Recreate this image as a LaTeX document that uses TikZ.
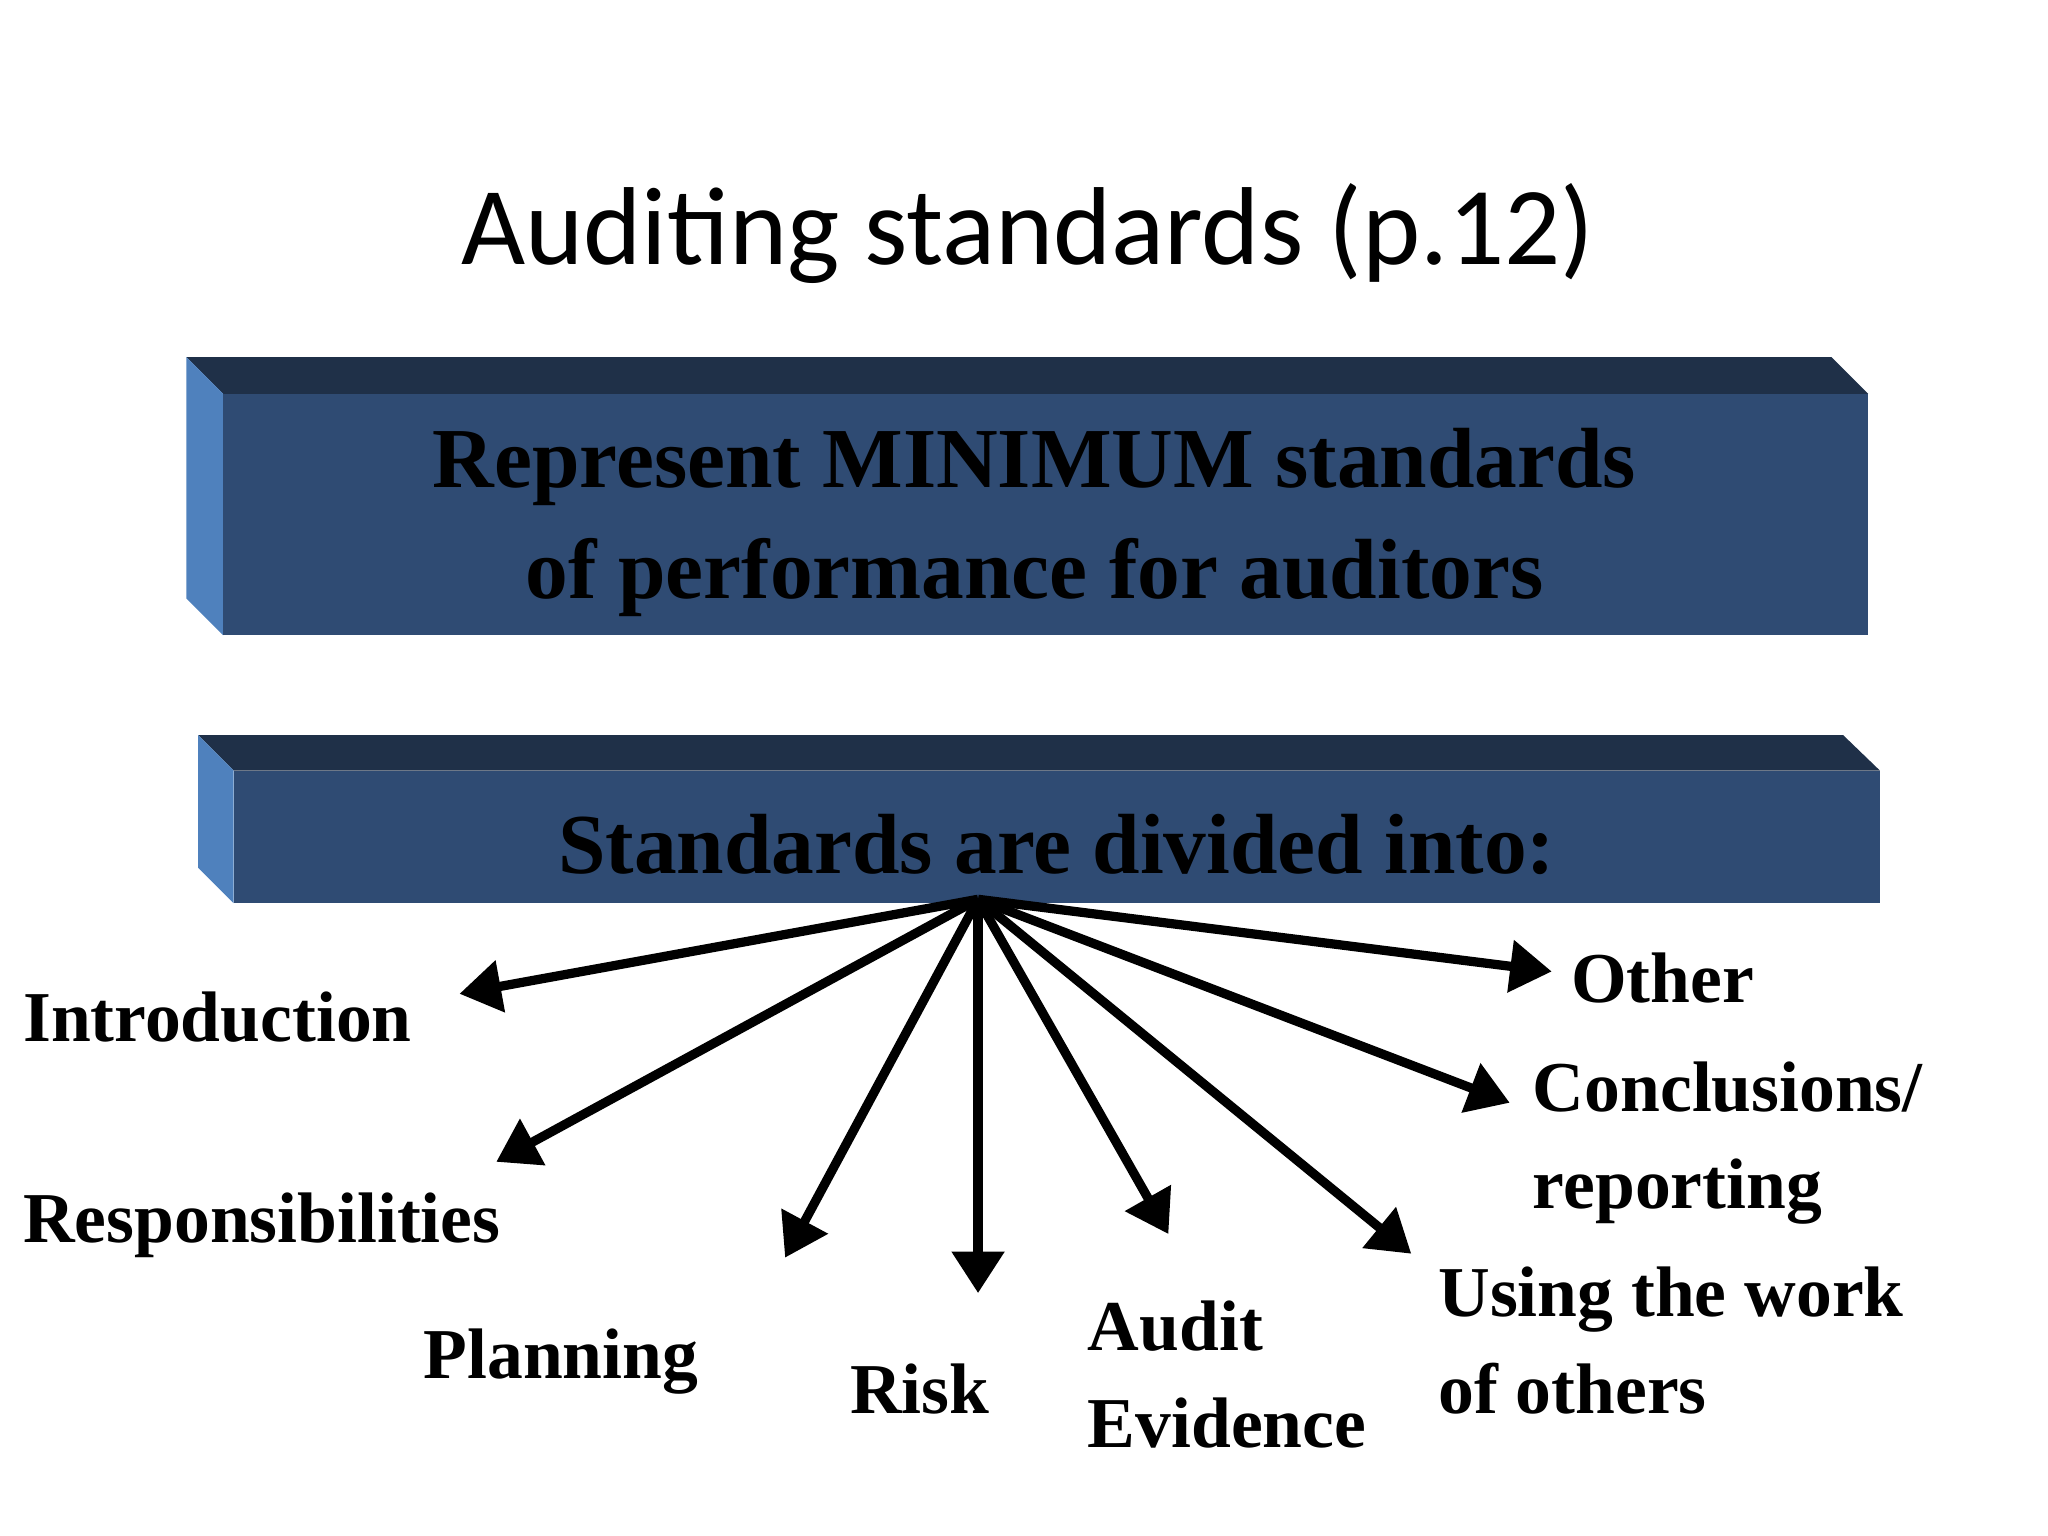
\documentclass[tikz,border=0pt]{standalone}
\usepackage{fontspec}
\setmainfont{Liberation Serif}
\newfontfamily\titlefont{Carlito}
\usetikzlibrary{arrows.meta}
\begin{document}
\begin{tikzpicture}[x=0.01cm,y=-0.01cm,
  lbl/.style={font=\fontsize{15.5}{21}\selectfont\bfseries, anchor=west, align=left, inner sep=0pt},
  arr/.style={line width=2pt, -{Triangle[length=9pt,width=11pt]}},
  topf/.style={fill=black!0!cyan!0!blue!0, fill={rgb,255:red,31;green,48;blue,72}},
  frontf/.style={fill={rgb,255:red,47;green,75;blue,115}},
  leftf/.style={fill={rgb,255:red,79;green,129;blue,189}}]
\useasboundingbox (0,0) rectangle (1560,1170);
\node[font=\titlefont\fontsize{24}{28}\selectfont] (title) at (783,178) {Auditing standards (p.12)};
% box 1
\fill[topf] (142,272) -- (1395,272) -- (1423,300) -- (170,300) -- cycle;
\fill[leftf] (142,272) -- (170,300) -- (170,484) -- (142,456) -- cycle;
\fill[frontf] (170,300) rectangle (1423,484);
\node[font=\fontsize{18.5}{24}\selectfont\bfseries, align=center] (b1) at (788,398) {Represent MINIMUM standards\\of performance for auditors};
% box 2
\fill[topf] (151,560) -- (1404,560) -- (1432,587) -- (178,587) -- cycle;
\fill[leftf] (151,560) -- (178,587) -- (178,688) -- (151,661) -- cycle;
\fill[frontf] (178,587) rectangle (1432,688);
\node[font=\fontsize{18.5}{24}\selectfont\bfseries] (b2) at (805,643) {Standards are divided into:};
\coordinate (c) at (745,685);
\coordinate (e1) at (350,757);
\coordinate (e2) at (378,885);
\coordinate (e3) at (598,958);
\coordinate (e4) at (745,985);
\coordinate (e5) at (890,940);
\coordinate (e6) at (1075,955);
\coordinate (e7) at (1150,840);
\coordinate (e8) at (1182,740);
\foreach \i in {1,...,8} \draw[arr] (c) -- (e\i);
\node[lbl] (intro) at (17,775) {Introduction};
\node[lbl] (resp) at (17,933) {Responsibilities};
\node[lbl] (plan) at (322,1037) {Planning};
\node[lbl] (risk) at (647,1058) {Risk};
\node[lbl] (audit) at (828,1047) {Audit\\Evidence};
\node[lbl] (using) at (1095,1021) {Using the work\\of others};
\node[lbl] (concl) at (1167,871) {Conclusions/\\reporting};
\node[lbl] (other) at (1196,745) {Other};
\end{tikzpicture}
\end{document}
